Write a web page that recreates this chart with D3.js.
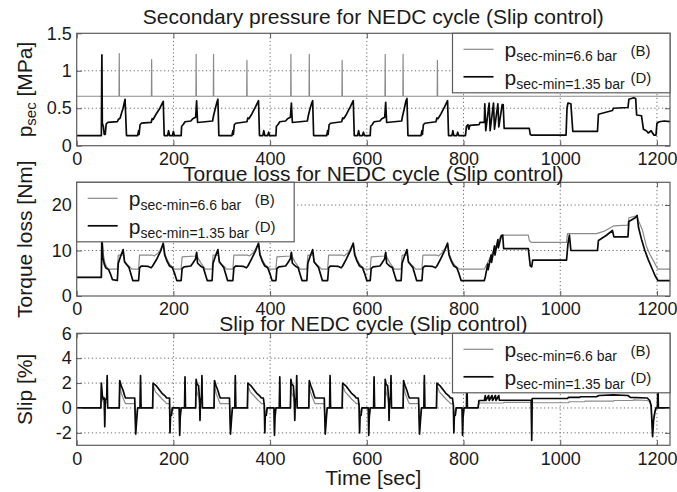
<!DOCTYPE html>
<html>
<head>
<meta charset="utf-8">
<script src="https://cdn.jsdelivr.net/npm/d3@7"></script>
<style>
  body { margin: 0; background: #fff; }
  svg { display: block; }
  text { font-family: Arial, "Liberation Sans", Helvetica, sans-serif; fill: #1a1a1a; }
</style>
</head>
<body>
<svg id="chart" width="677" height="492"></svg>
<script>
// ---- time axis -----------------------------------------------------------
const timeDomain = [0, 1227];
const timeTicks = [0, 200, 400, 600, 800, 1000, 1200];

// ---- value axes ----------------------------------------------------------
const pressureDomain = [0, 1.5];
const pressureTicks = [0, 0.5, 1, 1.5];
const pressureTickLabels = ["0", "0.5", "1", "1.5"];
const torqueDomain = [0, 25];
const torqueTicks = [0, 10, 20];
const torqueTickLabels = ["0", "10", "20"];
const slipDomain = [-3, 6];
const slipTicks = [-2, 0, 2, 4, 6];
const slipTickLabels = ["-2", "0", "2", "4", "6"];

// ---- secondary pressure [MPa], [time s, value] --------------------------
const pressureB = [
  [0,0.66],[51.5,0.66],[52,1.22],[52.5,0.66],[87.5,0.66],[88,1.23],[88.5,0.66],[154.5,0.66],[155,1.15],[155.5,0.66],
  [246.5,0.66],[247,1.22],[247.5,0.66],[282.5,0.66],[283,1.22],[283.5,0.66],[351.5,0.66],[352,1.14],[352.5,0.66],
  [442.5,0.66],[443,1.22],[443.5,0.66],[480.5,0.66],[481,1.22],[481.5,0.66],[548.5,0.66],[549,1.14],[549.5,0.66],
  [637.5,0.66],[638,1.22],[638.5,0.66],[674.5,0.66],[675,1.22],[675.5,0.66],[745.5,0.66],[746,1.14],[746.5,0.66],
  [1227,0.66]
];
const pressureD = [
  [0,0.135],[51,0.135],[52,1.21],[53,0.3],[55,0.26],[57,0.15],[59,0.15],[61,0.29],[64,0.31],[84,0.32],[86,0.35],[90,0.37],[92,0.42],[96,0.5],[100,0.62],[103,0.135],
  [126,0.135],[128,0.2],[129,0.15],[131,0.28],[134,0.3],[154,0.31],[156,0.36],[158,0.35],[164,0.42],[172,0.5],[179,0.59],[181,0.135],
  [188,0.135],[190,0.2],[192,0.135],[198,0.135],[200,0.19],[202,0.135],
  [216,0.135],[217,0.26],[220,0.28],[222,0.3],[224,0.32],[236,0.33],[240,0.36],[246,0.38],[248,0.6],[250,0.31],[281,0.33],[283,0.4],[286,0.48],[290,0.58],[292,0.62],[294,0.135],
  [321,0.135],[323,0.2],[324,0.15],[326,0.28],[329,0.3],[352,0.32],[354,0.37],[356,0.36],[362,0.42],[370,0.52],[376,0.6],[378,0.135],
  [385,0.135],[387,0.2],[389,0.135],[395,0.135],[397,0.18],[399,0.135],
  [412,0.135],[413,0.26],[416,0.28],[418,0.3],[420,0.32],[432,0.33],[436,0.36],[442,0.38],[444,0.57],[446,0.31],[477,0.33],[479,0.4],[482,0.48],[486,0.57],[488,0.6],[490,0.135],
  [517,0.135],[519,0.2],[520,0.15],[522,0.28],[525,0.3],[548,0.32],[550,0.37],[552,0.36],[558,0.42],[566,0.52],[572,0.6],[574,0.135],
  [581,0.135],[583,0.2],[585,0.135],[591,0.135],[593,0.18],[595,0.135],
  [607,0.135],[608,0.26],[611,0.28],[613,0.3],[615,0.32],[627,0.33],[631,0.36],[637,0.38],[639,0.58],[641,0.31],[672,0.33],[674,0.4],[677,0.48],[681,0.6],[683,0.63],[685,0.135],
  [712,0.135],[714,0.2],[715,0.15],[717,0.28],[720,0.3],[743,0.32],[745,0.37],[747,0.36],[753,0.42],[761,0.52],[767,0.6],[769,0.135],
  [776,0.135],[778,0.2],[780,0.135],[786,0.135],[788,0.18],[790,0.135],
  [804,0.135],[806,0.26],[809,0.28],[811,0.22],[813,0.27],[832,0.28],[834,0.31],[843,0.31],[844,0.56],[846,0.2],[853,0.57],[855,0.2],[862,0.57],[864,0.22],[871,0.56],[873,0.25],[880,0.55],[882,0.55],[884,0.23],
  [936,0.23],[938,0.15],[941,0.14],[1012,0.14],[1014,0.5],[1016,0.57],[1022,0.56],[1026,0.19],[1077,0.19],[1079,0.42],[1108,0.47],[1110,0.5],[1140,0.51],[1142,0.62],[1152,0.64],[1156,0.63],[1158,0.41],
  [1168,0.4],[1172,0.22],[1178,0.2],[1182,0.17],[1188,0.2],[1194,0.14],[1198,0.14],[1200,0.3],[1205,0.32],[1215,0.33],[1227,0.32]
];

// ---- torque loss [Nm] ----------------------------------------------------
const torqueB = [
  [0,4.1],[51,4.1],[52,13.5],[55,9.2],[58,7.4],[62,6.4],[66,5.9],[84,5.9],[86,9.0],[97,9.0],[99,7.6],[104,7.0],[110,6.4],[114,5.9],
  [128,5.9],[130,9.0],[156,9.0],[160,8.8],[168,9.4],[174,10.4],[179,11.6],[182,9.4],[187,8.0],[192,7.0],[198,6.4],[203,5.9],
  [216,5.9],[218,8.6],[246,8.8],[248,9.6],[250,8.6],[256,7.4],[262,6.5],[266,5.9],[280,5.9],[282,9.0],[293,9.0],[295,7.6],[300,7.0],[306,6.4],[310,5.9],
  [323,5.9],[325,9.0],[353,9.0],[357,8.8],[364,9.4],[370,10.4],[376,11.6],[379,9.4],[384,8.0],[389,7.0],[395,6.4],[400,5.9],
  [412,5.9],[414,8.6],[442,8.8],[444,9.6],[446,8.6],[452,7.4],[458,6.5],[462,5.9],[476,5.9],[478,9.0],[489,9.0],[491,7.6],[496,7.0],[502,6.4],[506,5.9],
  [519,5.9],[521,9.0],[549,9.0],[553,8.8],[560,9.4],[566,10.4],[572,11.6],[575,9.4],[580,8.0],[585,7.0],[591,6.4],[596,5.9],
  [607,5.9],[609,8.6],[637,8.8],[639,9.6],[641,8.6],[647,7.4],[653,6.5],[657,5.9],[671,5.9],[673,9.0],[684,9.0],[686,7.6],[691,7.0],[697,6.4],[701,5.9],
  [714,5.9],[716,9.0],[744,9.0],[748,8.8],[755,9.4],[761,10.4],[767,11.6],[770,9.4],[775,8.0],[780,7.0],[786,6.4],[791,5.9],
  [843,5.9],[860,9.5],[878,13.4],[934,13.4],[936,12.2],[940,11.8],[1013,11.8],[1015,13.7],[1075,13.7],[1090,14.2],[1110,15.4],[1140,15.6],[1142,17.2],[1158,17.6],
  [1162,16.5],[1170,14.5],[1178,11.0],[1186,9.0],[1194,7.5],[1202,5.9],[1227,5.9]
];
const torqueD = [
  [0,4.1],[51,4.1],[52,13.5],[54,8.5],[57,7.0],[60,6.2],[66,5.8],[70,4.8],[74,3.6],[84,3.4],[86,7.2],[91,8.8],[96,10.2],[99,7.5],[104,6.8],[108,6.3],[112,4.9],[116,3.4],
  [128,3.4],[130,6.2],[134,6.6],[148,6.5],[154,6.2],[157,6.6],[166,8.2],[174,10.0],[179,11.6],[182,9.0],[187,7.6],[192,6.6],[198,6.2],[203,4.8],[207,3.4],
  [216,3.4],[218,6.0],[222,6.4],[236,6.6],[240,7.2],[246,8.2],[248,9.6],[250,7.2],[256,6.6],[262,6.2],[266,4.8],[270,3.4],[280,3.4],[282,7.2],[287,8.8],[292,10.2],[295,7.5],[300,6.8],[304,6.3],[308,4.9],[312,3.4],
  [323,3.4],[325,6.2],[329,6.6],[345,6.5],[351,6.2],[354,6.6],[362,8.2],[370,10.0],[376,11.6],[379,9.0],[384,7.6],[389,6.6],[395,6.2],[400,4.8],[404,3.4],
  [412,3.4],[414,6.0],[418,6.4],[432,6.6],[436,7.2],[442,8.2],[444,9.6],[446,7.2],[452,6.6],[458,6.2],[462,4.8],[466,3.4],[476,3.4],[478,7.2],[483,8.8],[488,10.2],[491,7.5],[496,6.8],[500,6.3],[504,4.9],[508,3.4],
  [519,3.4],[521,6.2],[525,6.6],[541,6.5],[547,6.2],[550,6.6],[558,8.2],[566,10.0],[572,11.6],[575,9.0],[580,7.6],[585,6.6],[591,6.2],[596,4.8],[600,3.4],
  [607,3.4],[609,6.0],[613,6.4],[627,6.6],[631,7.2],[637,8.2],[639,9.6],[641,7.2],[647,6.6],[653,6.2],[657,4.8],[661,3.4],[671,3.4],[673,7.2],[678,8.8],[683,10.2],[686,7.5],[691,6.8],[695,6.3],[699,4.9],[703,3.4],
  [714,3.4],[716,6.2],[720,6.6],[736,6.5],[742,6.2],[745,6.6],[753,8.2],[761,10.0],[767,11.6],[770,9.0],[775,7.6],[780,6.6],[786,6.2],[791,4.8],[795,3.4],
  [843,3.4],[845,4.2],[850,7.0],[851,5.8],[857,9.0],[858,7.4],[864,11.0],[865,9.0],[871,12.4],[872,10.6],[878,13.2],[881,13.4],[883,10.4],[934,10.4],[938,6.6],[941,6.4],[943,7.9],
  [1013,7.9],[1016,11.5],[1019,13.4],[1022,10.0],[1077,10.0],[1079,12.2],[1095,13.3],[1108,14.4],[1111,13.0],[1140,13.0],[1142,16.4],[1155,17.2],[1159,17.7],[1162,15.0],
  [1168,12.5],[1175,10.0],[1182,8.0],[1190,6.0],[1196,4.5],[1202,3.4],[1227,3.4]
];

// ---- slip [%] ------------------------------------------------------------
const slipB = [
  [0,0],[50,0],[51,1.8],[53,0.6],[57,0.4],[58,-1.3],[59,0.4],[62,0.4],[63,2.3],[64,0],
  [88,0],[89,1.9],[92,1.2],[96,0.8],[99,0.5],[101,0.35],[120,0.35],[122,-1.8],[124,-0.6],[126,0],[131,0],[132,2.3],[133,0],
  [157,0],[158,1.8],[163,1.3],[170,1.0],[177,0.7],[184,0.45],[186,0.35],[192,0.35],[193,-1.8],[194,-0.4],[197,0],
  [212,0],[213,-1.9],[214,-0.6],[216,0],[223,0],[224,2.2],[225,0],[246,0],[247,2.0],[249,1.2],[252,0.9],[254,0.4],[255,-0.8],[256,0.35],[258,0.35],[259,2.3],[260,0],
  [284,0],[285,1.9],[288,1.2],[292,0.8],[295,0.5],[297,0.35],[316,0.35],[318,-1.8],[320,-0.6],[322,0],[327,0],[328,2.3],[329,0],
  [353,0],[354,1.8],[359,1.3],[366,1.0],[373,0.7],[380,0.45],[382,0.35],[388,0.35],[389,-1.8],[390,-0.4],[393,0],
  [408,0],[409,-1.9],[410,-0.6],[412,0],[419,0],[420,2.2],[421,0],[442,0],[443,2.0],[445,1.2],[448,0.9],[450,0.4],[451,-0.8],[452,0.35],[454,0.35],[455,2.3],[456,0],
  [480,0],[481,1.9],[484,1.2],[488,0.8],[491,0.5],[493,0.35],[512,0.35],[514,-1.8],[516,-0.6],[518,0],[523,0],[524,2.3],[525,0],
  [549,0],[550,1.8],[555,1.3],[562,1.0],[569,0.7],[576,0.45],[578,0.35],[584,0.35],[585,-1.8],[586,-0.4],[589,0],
  [603,0],[604,-1.9],[605,-0.6],[607,0],[614,0],[615,2.2],[616,0],[637,0],[638,2.0],[640,1.2],[643,0.9],[645,0.4],[646,-0.8],[647,0.35],[649,0.35],[650,2.3],[651,0],
  [675,0],[676,1.9],[679,1.2],[683,0.8],[686,0.5],[688,0.35],[707,0.35],[709,-1.8],[711,-0.6],[713,0],[718,0],[719,2.3],[720,0],
  [744,0],[745,1.8],[750,1.3],[757,1.0],[764,0.7],[771,0.45],[773,0.35],[779,0.35],[780,-1.8],[781,-0.4],[784,0],
  [797,0],[798,-1.9],[799,-0.6],[801,0],[806,0],[807,2.2],[808,0],[830,0],[832,0.4],[882,0.4],[884,0.45],[940,0.45],[941,-2.2],[942,0.42],
  [1017,0.42],[1019,0.5],[1050,0.5],[1052,0.55],[1110,0.55],[1112,0.6],[1150,0.6],[1152,0.65],[1180,0.6],[1185,0.5],[1188,0.1],[1191,-2.0],[1193,-0.8],[1196,-0.2],[1198,0],
  [1201,0],[1202,1.7],[1203,0],[1227,0]
];
const slipD = [
  [0,0],[50,0],[51,2.0],[53,1.0],[55,0.7],[57,0.8],[58,-1.5],[59,0.7],[62,0.7],[63,2.6],[64,0],
  [88,0],[89,2.2],[92,1.8],[96,1.4],[99,1.0],[101,0.8],[120,0.8],[122,-2.1],[124,-1.0],[126,0],[131,0],[132,2.6],[133,0],
  [157,0],[158,2.0],[164,1.8],[170,1.5],[176,1.2],[182,1.0],[186,0.8],[192,0.8],[193,-2.0],[194,-0.6],[196,-0.6],[198,0],
  [212,0],[213,-2.2],[214,-0.8],[216,0],[223,0],[224,2.5],[225,0],[246,0],[247,2.3],[249,1.9],[252,1.8],[254,0.8],[255,-1.0],[256,0.7],[258,0.7],[259,2.6],[260,0],
  [284,0],[285,2.2],[288,1.8],[292,1.4],[295,1.0],[297,0.8],[316,0.8],[318,-2.1],[320,-1.0],[322,0],[327,0],[328,2.6],[329,0],
  [353,0],[354,2.0],[360,1.8],[366,1.5],[372,1.2],[378,1.0],[382,0.8],[386,0.8],[388,0.2],[389,-2.0],[390,-0.6],[392,-0.6],[394,0],
  [408,0],[409,-2.2],[410,-0.8],[412,0],[419,0],[420,2.5],[421,0],[442,0],[443,2.3],[445,1.9],[448,1.8],[450,0.8],[451,-1.0],[452,0.7],[454,0.7],[455,2.6],[456,0],
  [480,0],[481,2.2],[484,1.8],[488,1.4],[491,1.0],[493,0.8],[512,0.8],[514,-2.1],[516,-1.0],[518,0],[523,0],[524,2.6],[525,0],
  [549,0],[550,2.0],[556,1.8],[562,1.5],[568,1.2],[574,1.0],[578,0.8],[582,0.8],[584,0.2],[585,-2.0],[586,-0.6],[588,-0.6],[590,0],
  [603,0],[604,-2.2],[605,-0.8],[607,0],[614,0],[615,2.5],[616,0],[637,0],[638,2.3],[640,1.9],[643,1.8],[645,0.8],[646,-1.0],[647,0.7],[649,0.7],[650,2.6],[651,0],
  [675,0],[676,2.2],[679,1.8],[683,1.4],[686,1.0],[688,0.8],[707,0.8],[709,-2.1],[711,-1.0],[713,0],[718,0],[719,2.6],[720,0],
  [744,0],[745,2.0],[751,1.8],[757,1.5],[763,1.2],[769,1.0],[773,0.8],[777,0.8],[779,0.2],[780,-2.0],[781,-0.6],[783,-0.6],[785,0],
  [797,0],[798,-2.2],[799,-0.8],[801,0],[806,0],[807,2.5],[808,0],[830,0],[832,0.6],[843,0.6],[845,1.0],[846,0.6],[852,1.0],[853,0.6],[859,1.0],[860,0.6],[866,1.0],[867,0.6],[873,1.0],[874,0.62],
  [940,0.62],[941,-2.6],[942,0.76],[1015,0.76],[1017,0.85],[1040,0.85],[1042,0.9],[1075,0.9],[1080,1.0],[1110,1.05],[1140,1.0],[1145,0.85],[1180,0.8],[1185,0.6],[1188,0.2],
  [1191,-2.3],[1193,-1.0],[1196,-0.3],[1198,0],[1201,0],[1202,2.0],[1203,0],[1227,0]
];

// ---- legend entries ------------------------------------------------------
const legendMain = ["p", "p"];
const legendSub = ["sec-min=6.6 bar", "sec-min=1.35 bar"];
const legendTag = ["(B)", "(D)"];

// ---- layout --------------------------------------------------------------
const svg = d3.select("#chart");
const X0 = 76.7, X1 = 670;
const x = d3.scaleLinear().domain(timeDomain).range([X0, X1]);
const GRAY = "#8a8a8a", BLACK = "#0a0a0a", FRAME = "#5c5c5c";
const LEG_W = 217.5, LEG_H = 59.5;

const panels = [
  { top: 33.3, bottom: 145.7, domain: pressureDomain, ticks: pressureTicks, labels: pressureTickLabels,
    title: "Secondary pressure for NEDC cycle (Slip control)", titleY: 24,
    B: pressureB, D: pressureD, legendX: X1 - LEG_W, xPad: 7,
    ylabel: [["p", 21, 0], ["sec", 15, 4], [" [MPa]", 21, -4]] },
  { top: 182.3, bottom: 296, domain: torqueDomain, ticks: torqueTicks, labels: torqueTickLabels,
    title: "Torque loss for NEDC cycle (Slip control)", titleY: 180.5,
    B: torqueB, D: torqueD, legendX: X0, xPad: 6,
    ylabel: [["Torque loss [Nm]", 21, 0]] },
  { top: 333.3, bottom: 445.3, domain: slipDomain, ticks: slipTicks, labels: slipTickLabels,
    title: "Slip for NEDC cycle (Slip control)", titleY: 330.5,
    B: slipB, D: slipD, legendX: X1 - LEG_W, xPad: 7,
    ylabel: [["Slip [%]", 21, 0]] }
];

panels.forEach((p, i) => {
  const y = d3.scaleLinear().domain(p.domain).range([p.bottom, p.top]);
  const g = svg.append("g");
  const clipId = "clip" + i;
  g.append("clipPath").attr("id", clipId).append("rect")
    .attr("x", X0).attr("y", p.top).attr("width", X1 - X0).attr("height", p.bottom - p.top);

  // dotted grid
  const grid = g.append("g").attr("stroke", "#6a6a6a").attr("stroke-width", 1)
    .attr("stroke-dasharray", "1.2,2.6");
  grid.selectAll(".gx").data(timeTicks.filter(v => v > timeDomain[0])).join("line")
    .attr("x1", d => x(d)).attr("x2", d => x(d)).attr("y1", p.top).attr("y2", p.bottom);
  grid.selectAll(".gy").data(p.ticks.filter(v => v > p.domain[0] && v < p.domain[1])).join("line")
    .attr("x1", X0).attr("x2", X1).attr("y1", d => y(d)).attr("y2", d => y(d));

  // series
  const line = d3.line().x(d => x(d[0])).y(d => y(d[1]));
  const plot = g.append("g").attr("clip-path", `url(#${clipId})`);
  plot.append("path").datum(p.B).attr("d", line).attr("fill", "none")
    .attr("stroke", GRAY).attr("stroke-width", 1.2).attr("stroke-linejoin", "round");
  plot.append("path").datum(p.D).attr("d", line).attr("fill", "none")
    .attr("stroke", BLACK).attr("stroke-width", 1.7).attr("stroke-linejoin", "round");

  // axes with inward ticks
  const styleAxis = sel => {
    sel.select(".domain").remove();
    sel.selectAll(".tick line").attr("stroke", FRAME);
    sel.selectAll("text").attr("font-family", null).attr("fill", "#1a1a1a").style("font-size", "18px");
  };
  g.append("g").attr("transform", `translate(0,${p.bottom})`)
    .call(d3.axisBottom(x).tickValues(timeTicks).tickFormat(d3.format("d"))
      .tickSizeInner(-5).tickSizeOuter(0).tickPadding(p.xPad))
    .call(styleAxis);
  g.append("g").attr("transform", `translate(0,${p.top})`)
    .call(d3.axisTop(x).tickValues(timeTicks).tickFormat("").tickSizeInner(-5).tickSizeOuter(0))
    .call(styleAxis);
  g.append("g").attr("transform", `translate(${X0},0)`)
    .call(d3.axisLeft(y).tickValues(p.ticks).tickFormat((d, k) => p.labels[k])
      .tickSizeInner(-5).tickSizeOuter(0).tickPadding(5))
    .call(styleAxis);
  g.append("g").attr("transform", `translate(${X1},0)`)
    .call(d3.axisRight(y).tickValues(p.ticks).tickFormat("").tickSizeInner(-5).tickSizeOuter(0))
    .call(styleAxis);

  // frame
  g.append("rect").attr("x", X0).attr("y", p.top).attr("width", X1 - X0).attr("height", p.bottom - p.top)
    .attr("fill", "none").attr("stroke", FRAME).attr("stroke-width", 1.2);

  // title
  g.append("text").attr("x", (X0 + X1) / 2).attr("y", p.titleY).attr("text-anchor", "middle")
    .style("font-size", "21px").text(p.title);

  // y label
  const yl = g.append("text")
    .attr("transform", `translate(32,${(p.top + p.bottom) / 2}) rotate(-90)`)
    .attr("text-anchor", "middle");
  p.ylabel.forEach(([txt, fs, dy]) => {
    yl.append("tspan").attr("dy", dy).style("font-size", fs + "px").text(txt);
  });

  // legend
  const lg = g.append("g").attr("transform", `translate(${p.legendX},${p.top})`);
  lg.append("rect").attr("width", LEG_W).attr("height", LEG_H)
    .attr("fill", "#fff").attr("stroke", FRAME).attr("stroke-width", 1.2);
  [GRAY, BLACK].forEach((col, k) => {
    const ry = 16 + k * 27.5;
    lg.append("line").attr("x1", 11).attr("x2", 41).attr("y1", ry).attr("y2", ry)
      .attr("stroke", col).attr("stroke-width", k ? 1.7 : 1.2);
    const t = lg.append("text").attr("x", 52).attr("y", ry + 8);
    t.append("tspan").style("font-size", "21px").text(legendMain[k]);
    t.append("tspan").attr("dy", 4).style("font-size", "14px").text(legendSub[k]);
    lg.append("text").attr("x", 178).attr("y", ry + 6.5).style("font-size", "15px").text(legendTag[k]);
  });
});

// shared x label
svg.append("text").attr("x", (X0 + X1) / 2).attr("y", 485).attr("text-anchor", "middle")
  .style("font-size", "21px").text("Time [sec]");
</script>
</body>
</html>
